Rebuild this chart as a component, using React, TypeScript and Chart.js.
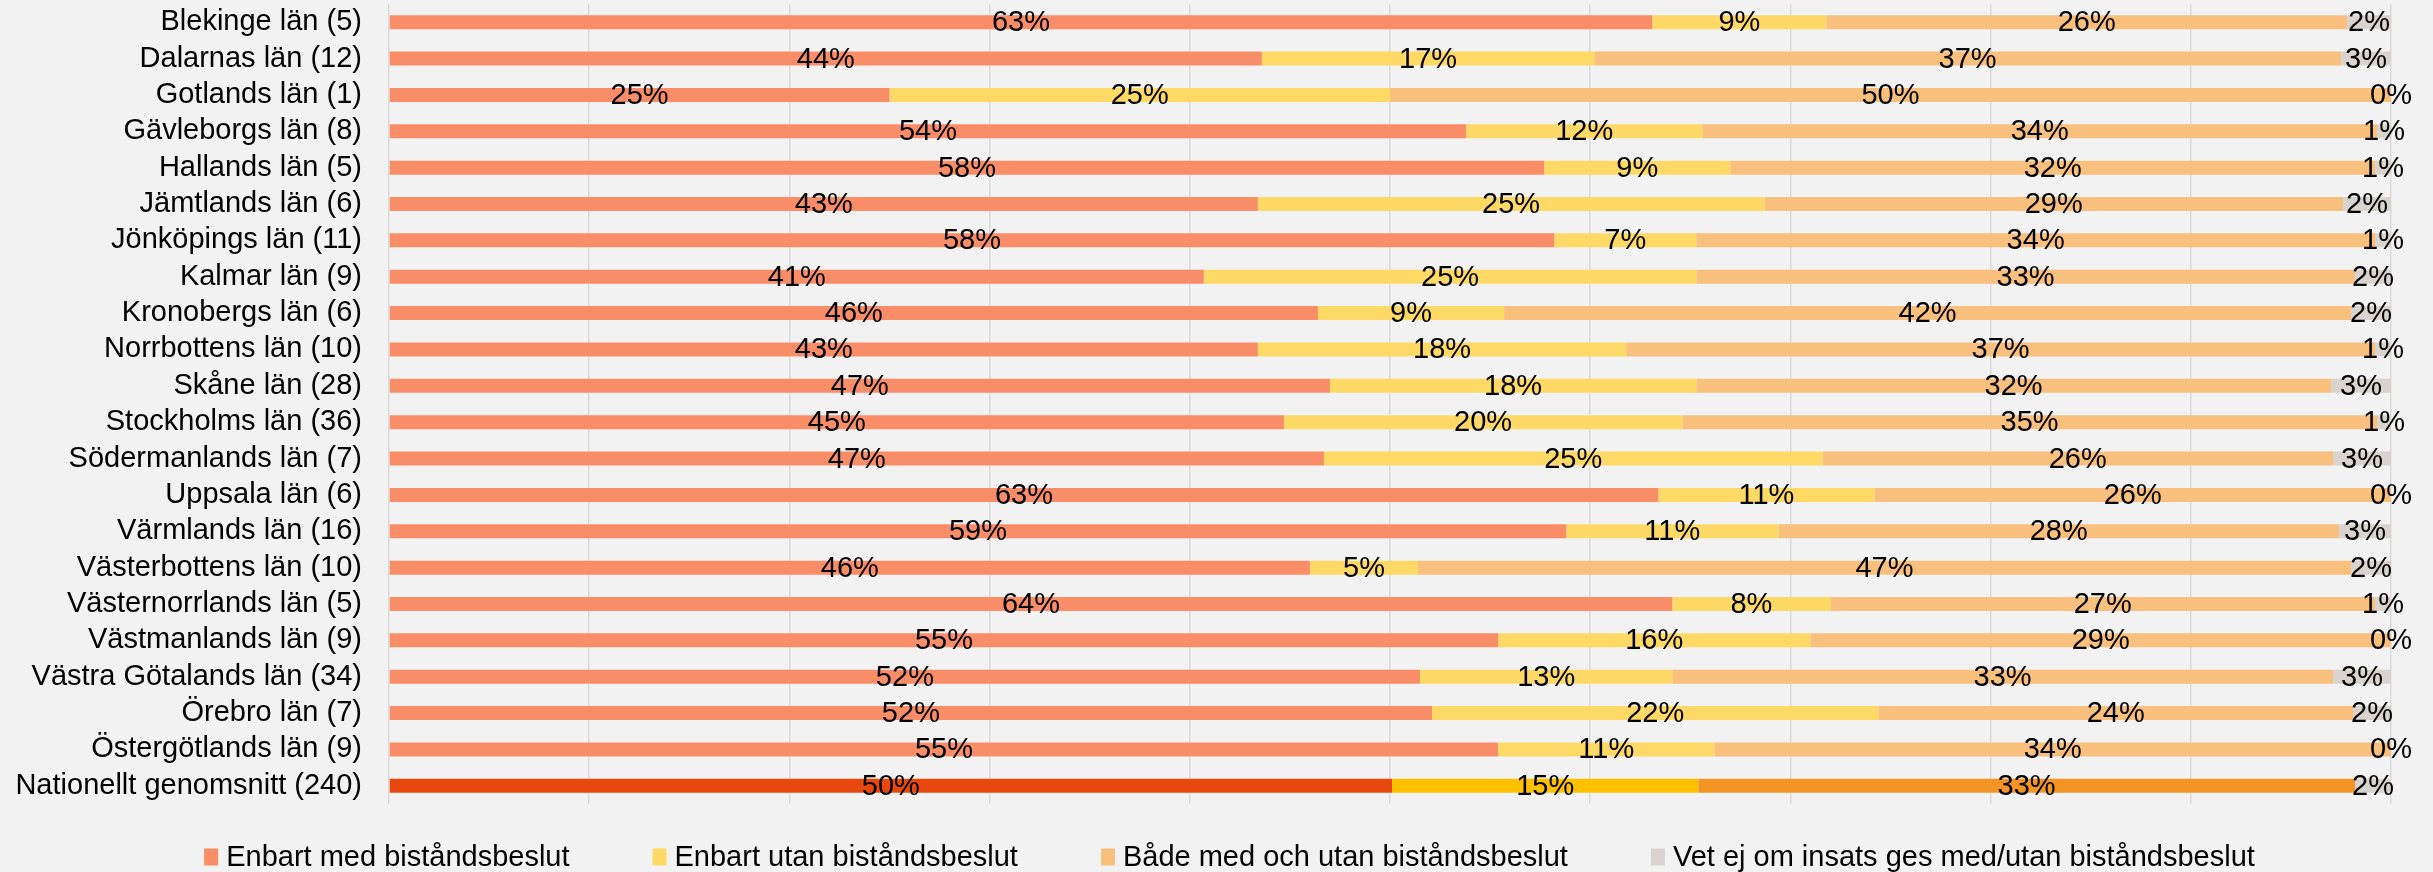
import React, { useEffect, useRef } from 'react';
import { Chart, registerables } from 'chart.js';

Chart.register(...registerables);

const FONT = '"Liberation Sans", Arial, sans-serif';

const categories = [
  'Blekinge län (5)',
  'Dalarnas län (12)',
  'Gotlands län (1)',
  'Gävleborgs län (8)',
  'Hallands län (5)',
  'Jämtlands län (6)',
  'Jönköpings län (11)',
  'Kalmar län (9)',
  'Kronobergs län (6)',
  'Norrbottens län (10)',
  'Skåne län (28)',
  'Stockholms län (36)',
  'Södermanlands län (7)',
  'Uppsala län (6)',
  'Värmlands län (16)',
  'Västerbottens län (10)',
  'Västernorrlands län (5)',
  'Västmanlands län (9)',
  'Västra Götalands län (34)',
  'Örebro län (7)',
  'Östergötlands län (9)',
  'Nationellt genomsnitt (240)',
];

const seriesNames = [
  'Enbart med biståndsbeslut',
  'Enbart utan biståndsbeslut',
  'Både med och utan biståndsbeslut',
  'Vet ej om insats ges med/utan biståndsbeslut',
];

const enbartMed = [63.1, 43.6, 25.0, 53.8, 57.7, 43.4, 58.2, 40.7, 46.4, 43.4, 47.0, 44.7, 46.7, 63.4, 58.8, 46.0, 64.1, 55.4, 51.5, 52.1, 55.4, 50.1];
const enbartUtan = [8.7, 16.6, 25.0, 11.8, 9.3, 25.3, 7.1, 24.6, 9.3, 18.4, 18.3, 19.9, 24.9, 10.8, 10.6, 5.4, 7.9, 15.6, 12.6, 22.3, 10.8, 15.3];
const badeMedOchUtan = [26.0, 37.3, 50.0, 33.7, 32.2, 28.9, 33.9, 32.9, 42.3, 37.4, 31.7, 34.7, 25.5, 25.8, 28.0, 46.6, 27.2, 29.0, 33.0, 23.7, 33.8, 32.8];
const vetEj = [2.2, 2.5, 0, 0.7, 0.8, 2.4, 0.8, 1.8, 2.0, 0.8, 3.0, 0.7, 2.9, 0, 2.6, 2.0, 0.8, 0, 2.9, 1.9, 0, 1.8];

const seriesValues = [enbartMed, enbartUtan, badeMedOchUtan, vetEj];
const regionColors = ['#F88D68', '#FFD966', '#F8BF7D', '#D9D3CD'];
const nationalColors = ['#E8480D', '#FFC000', '#F39425', '#D9D3CD'];

const segmentLabels = {
  id: 'segmentLabels',
  afterDatasetsDraw(chart: any) {
    const ctx = chart.ctx;
    ctx.save();
    ctx.font = `29px ${FONT}`;
    ctx.fillStyle = '#000000';
    ctx.textAlign = 'center';
    ctx.textBaseline = 'middle';
    chart.data.datasets.forEach((ds: any, di: number) => {
      const meta = chart.getDatasetMeta(di);
      meta.data.forEach((el: any, i: number) => {
        const v = ds.data[i] as number;
        const { x, base, y } = el.getProps(['x', 'base', 'y'], true);
        ctx.fillText(`${Math.round(v)}%`, (x + base) / 2, y + 1);
      });
    });
    ctx.restore();
  },
};

const bottomLegend = {
  id: 'bottomLegend',
  afterDraw(chart: any) {
    const ctx = chart.ctx;
    ctx.save();
    ctx.font = `29px ${FONT}`;
    const boxW = 14;
    const boxH = 17;
    const textGap = 8;
    const itemGap = 83;
    const widths = seriesNames.map((n) => ctx.measureText(n).width);
    const total =
      widths.reduce((a: number, w: number) => a + boxW + textGap + w, 0) +
      itemGap * (seriesNames.length - 1);
    let x = (chart.width - total) / 2 + 13;
    const cy = 857;
    ctx.textAlign = 'left';
    ctx.textBaseline = 'middle';
    seriesNames.forEach((name, i) => {
      ctx.fillStyle = regionColors[i];
      ctx.fillRect(x, cy - boxH / 2, boxW, boxH);
      ctx.fillStyle = '#000000';
      ctx.fillText(name, x + boxW + textGap, cy + 1);
      x += boxW + textGap + widths[i] + itemGap;
    });
    ctx.restore();
  },
};

export default function App() {
  const canvasRef = useRef<HTMLCanvasElement | null>(null);

  useEffect(() => {
    document.body.style.margin = '0';
    document.body.style.background = '#F2F2F2';
    const canvas = canvasRef.current;
    if (!canvas) return;
    const last = categories.length - 1;
    const datasets = seriesNames.map((name, si) => ({
      label: name,
      data: seriesValues[si],
      backgroundColor: categories.map((_, ci) => (ci === last ? nationalColors[si] : regionColors[si])),
      borderWidth: 0,
      barPercentage: 0.385,
      categoryPercentage: 1,
    }));

    const chart = new Chart(canvas, {
      type: 'bar',
      data: { labels: categories, datasets },
      plugins: [segmentLabels, bottomLegend],
      options: {
        indexAxis: 'y',
        animation: false,
        responsive: true,
        maintainAspectRatio: false,
        layout: { padding: { left: 0, right: 42, top: 4, bottom: 68 } },
        plugins: {
          legend: { display: false },
          tooltip: { enabled: false },
          title: { display: false },
        },
        scales: {
          x: {
            stacked: true,
            min: 0,
            max: 100,
            ticks: { display: false, stepSize: 10 },
            grid: { color: '#D9D9D9', lineWidth: 1.5, drawTicks: false },
            border: { display: false },
            afterFit: (scale: any) => {
              scale.height = 0;
              scale.paddingLeft = 0;
              scale.paddingRight = 0;
            },
          },
          y: {
            stacked: true,
            grid: { display: false, drawTicks: false },
            border: { display: false },
            ticks: {
              autoSkip: false,
              padding: 27,
              color: '#000000',
              font: { family: FONT, size: 29 },
            },
            afterFit: (scale: any) => {
              scale.width = 389;
              scale.paddingTop = 0;
              scale.paddingBottom = 0;
            },
          },
        },
      },
    });
    return () => chart.destroy();
  }, []);

  return (
    <div style={{ position: 'relative', width: '2433px', height: '872px', background: '#F2F2F2' }}>
      <canvas ref={canvasRef} />
    </div>
  );
}
